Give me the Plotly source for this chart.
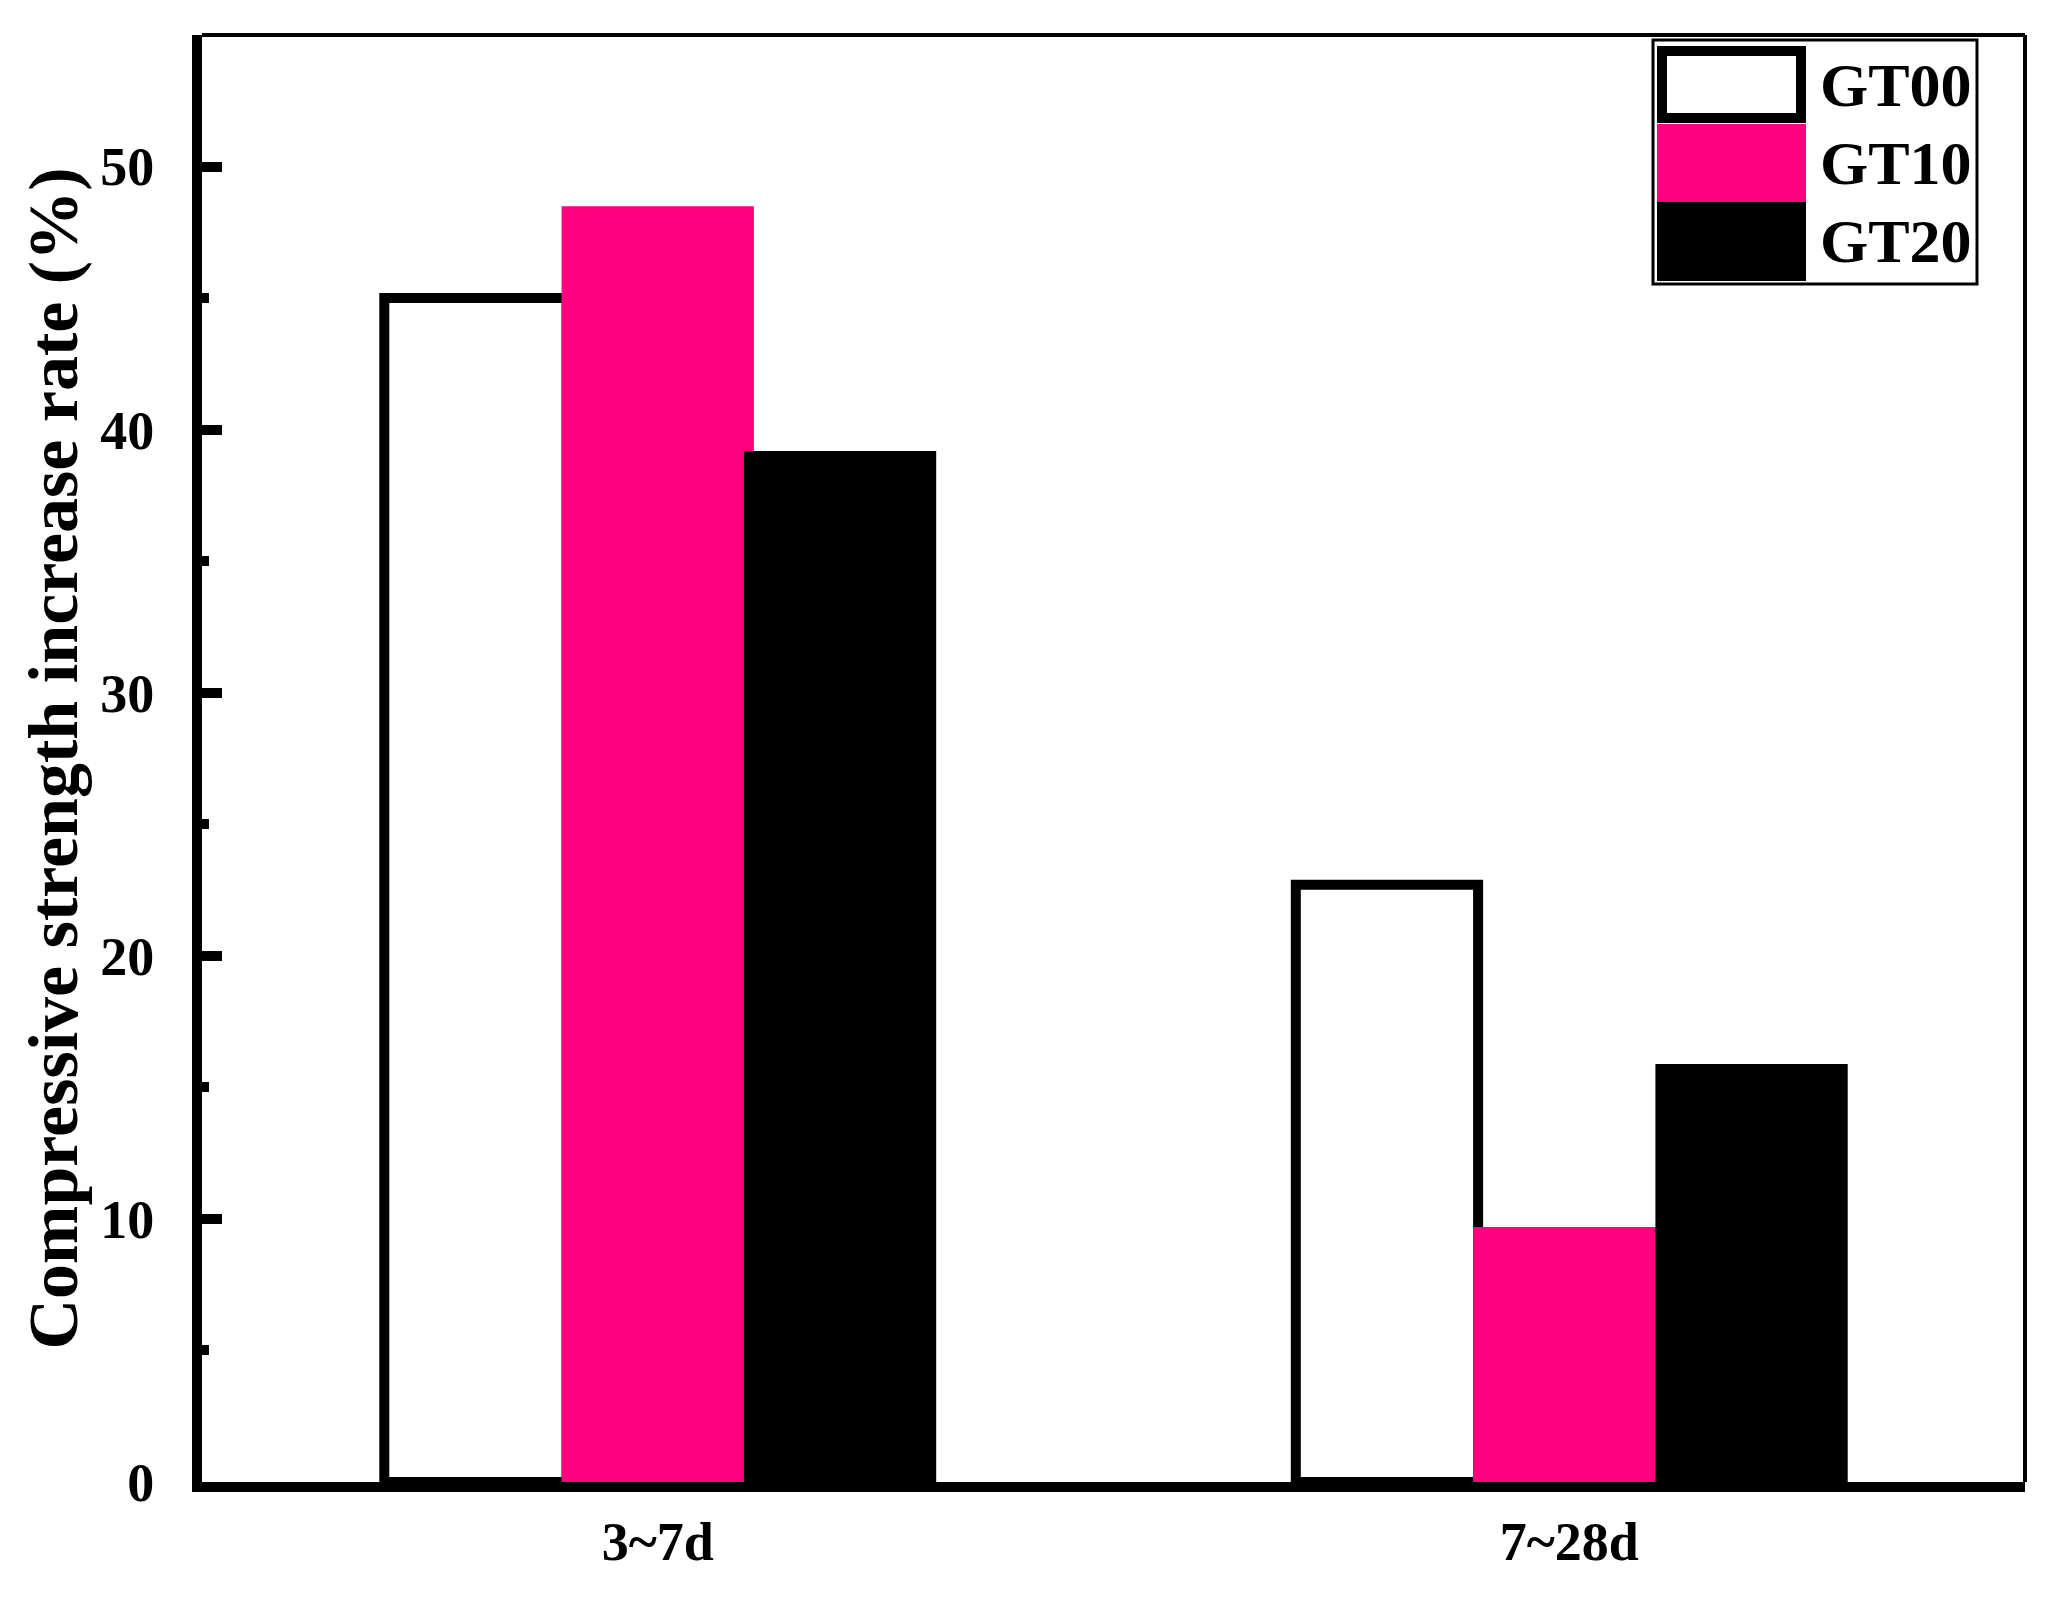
import plotly.graph_objects as go

# ---- data ----
categories = ["3~7d", "7~28d"]
series_names = ["GT00", "GT10", "GT20"]
gt00 = [45.0, 22.7]
gt10 = [48.3, 9.5]
gt20 = [39.0, 15.7]
y_ticks = [0, 10, 20, 30, 40, 50]

fill_colors = ["white", "#FF0080", "black"]
line_colors = ["black", "#FF0080", "black"]
values = [gt00, gt10, gt20]

# page has an 8px body margin; compensate so the plot sits where the reference has it
OFF = 8
W, H = 2052 - 2 * OFF, 1602 - 2 * OFF
PL, PR, PT, PB = 202, 2025, 35, 1482          # plot area in page pixels
ML, MT = PL - OFF, PT - OFF
MR, MB = W - (PR - OFF), H - (PB - OFF)
PW, PH = PR - PL, PB - PT

def px_x(p):
    return (p - PL) / PW

def px_y(p):
    return (PB - p) / PH

FONT = "Liberation Serif"

fig = go.Figure()
for name, vals, fc, lc in zip(series_names, values, fill_colors, line_colors):
    fig.add_trace(go.Bar(
        x=categories, y=vals, name=name,
        marker=dict(color=fc, line=dict(color=lc, width=10)),
        showlegend=False,
    ))

fig.update_layout(
    width=W, height=H,
    margin=dict(l=ML, r=MR, t=MT, b=MB, pad=0),
    paper_bgcolor="white", plot_bgcolor="white",
    barmode="group", bargap=0.4, bargroupgap=0,
    font=dict(family=FONT, color="black"),
)

fig.update_xaxes(
    type="category", range=[-0.5, 1.5],
    showline=True, linewidth=10, linecolor="black",
    ticks="", showgrid=False, zeroline=False,
    tickfont=dict(family=FONT, size=54, color="black", weight="bold"),
    ticklabelstandoff=3,
)
fig.update_yaxes(
    range=[0, 55], tickvals=y_ticks,
    showline=True, linewidth=10, linecolor="black",
    ticks="inside", ticklen=20, tickwidth=10, tickcolor="black",
    minor=dict(dtick=5, tick0=0, ticks="inside", ticklen=7, tickwidth=10, tickcolor="black"),
    showgrid=False, zeroline=False,
    tickfont=dict(family=FONT, size=54, color="black", weight="bold"),
    ticklabelstandoff=27,
    title=dict(text="Compressive strength increase rate (%)",
               font=dict(family=FONT, size=70, color="black", weight="bold"),
               standoff=4),
)

# top and right thin spines
fig.add_shape(type="line", xref="paper", yref="paper", x0=0, x1=1, y0=1, y1=1,
              line=dict(color="black", width=4))
fig.add_shape(type="line", xref="paper", yref="paper", x0=1, x1=1, y0=0, y1=1,
              line=dict(color="black", width=4))

# manual legend (box + swatches + labels)
fig.add_shape(type="rect", xref="paper", yref="paper",
              x0=px_x(1653), x1=px_x(1977), y0=px_y(284), y1=px_y(40),
              line=dict(color="black", width=3), fillcolor="white")
rows = [(46, 123), (124, 202), (202, 281)]
for (top, bot), name, fc, lc in zip(rows, series_names, fill_colors, line_colors):
    fig.add_shape(type="rect", xref="paper", yref="paper",
                  x0=px_x(1662), x1=px_x(1801), y0=px_y(bot - 5), y1=px_y(top + 5),
                  line=dict(color=lc, width=10), fillcolor=fc)
    fig.add_annotation(xref="paper", yref="paper", x=px_x(1818), y=px_y((top + bot) / 2),
                       xanchor="left", yanchor="middle", showarrow=False, text=name,
                       font=dict(family=FONT, size=62, color="black", weight="bold"))

fig.write_html("out.html")
